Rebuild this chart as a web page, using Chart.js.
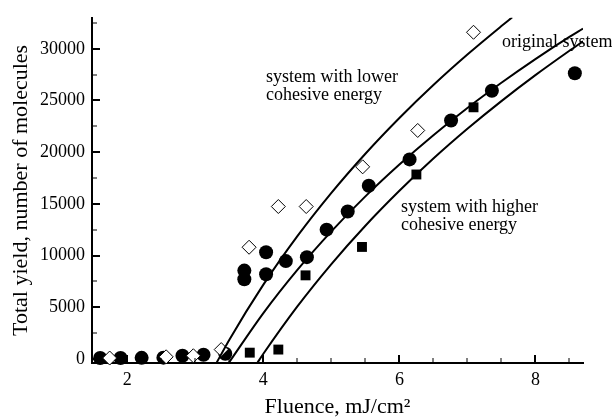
<!DOCTYPE html>
<html>
<head>
<meta charset="utf-8">
<script src="https://cdn.jsdelivr.net/npm/chart.js@4.4.1/dist/chart.umd.min.js"></script>
<style>
  html, body { margin: 0; padding: 0; background: #fff; }
</style>
</head>
<body>
<canvas id="chart" width="612" height="420"></canvas>
<script>
// original system (filled circles)
const origX = [1.60, 1.90, 2.21, 2.53, 2.81, 3.12, 3.44, 3.72, 3.72, 4.04, 4.04, 4.33, 4.64, 4.93, 5.24, 5.55, 6.15, 6.76, 7.36, 8.58];
const origY = [80, 80, 100, 120, 300, 400, 500, 7700, 8540, 8180, 10320, 9460, 9840, 12500, 14260, 16750, 19300, 23060, 25940, 27630];

// system with lower cohesive energy (open diamonds)
const lowX = [1.74, 2.57, 2.97, 3.38, 3.79, 4.22, 4.63, 5.46, 6.27, 7.09];
const lowY = [80, 200, 300, 900, 10800, 14740, 14740, 18580, 22100, 31600];

// system with higher cohesive energy (filled squares)
const highX = [3.80, 4.22, 4.62, 5.45, 6.25, 7.09];
const highY = [600, 900, 8080, 10830, 17840, 24340];

// fitted curves
const curveLowX = [3.31, 3.5, 4.0, 4.5, 5.0, 5.5, 6.0, 6.5, 7.0, 7.5, 7.66];
const curveLowY = [-400, 1860, 7180, 11870, 16060, 19850, 23310, 26500, 29450, 32200, 33050];
const curveOrigX = [3.49, 4.0, 4.5, 5.0, 5.5, 6.0, 6.5, 7.0, 7.5, 8.0, 8.5, 8.7];
const curveOrigY = [-400, 4430, 8610, 12340, 15720, 18800, 21640, 24270, 26710, 29000, 31150, 31950];
const curveHighX = [3.91, 4.0, 4.5, 5.0, 5.5, 6.0, 6.5, 7.0, 7.5, 8.0, 8.5, 8.7];
const curveHighY = [-400, 490, 5070, 9170, 12880, 16260, 19380, 22260, 24940, 27450, 29810, 30720];

// labelled ticks
const xTickVals = [2, 4, 6, 8];
const yTickVals = [0, 5000, 10000, 15000, 20000, 25000, 30000];

// tick marks drawn inside the frame
const xMarks = [2, 2.5, 3, 3.5, 4, 4.5, 5, 5.5, 6, 6.5, 7, 7.5, 8, 8.5];
const yMarks = [0, 2500, 5000, 7500, 10000, 12500, 15000, 17500, 20000, 22500, 25000, 27500, 30000, 32500];

const notes = [
  { text: "system with lower", x: 266, y: 82 },
  { text: "cohesive energy", x: 266, y: 100 },
  { text: "original system", x: 502, y: 47 },
  { text: "system with higher", x: 401, y: 212 },
  { text: "cohesive energy", x: 401, y: 230 }
];

const pts = (xs, ys) => xs.map((x, i) => ({ x, y: ys[i] }));

const SERIF = "'Liberation Serif', 'Times New Roman', serif";
Chart.defaults.font.family = SERIF;
Chart.defaults.color = "#000";

const innerTicks = {
  id: "innerTicks",
  afterDraw(chart) {
    const { ctx, chartArea: a } = chart;
    const x = chart.scales.x, y = chart.scales.y;
    ctx.save();
    ctx.strokeStyle = "#000";
    xMarks.forEach(v => {
      const px = Math.round(x.getPixelForValue(v));
      const major = v % 2 === 0;
      ctx.lineWidth = major ? 2 : 1;
      ctx.beginPath();
      ctx.moveTo(px, a.bottom);
      ctx.lineTo(px, a.bottom - (major ? 8 : 5));
      ctx.stroke();
    });
    yMarks.forEach(v => {
      const py = Math.round(y.getPixelForValue(v));
      const major = v % 5000 === 0;
      ctx.lineWidth = major ? 2 : 1;
      ctx.beginPath();
      ctx.moveTo(a.left, py);
      ctx.lineTo(a.left + (major ? 8 : 5), py);
      ctx.stroke();
    });
    ctx.fillStyle = "#000";
    ctx.font = "18px " + SERIF;
    ctx.textBaseline = "alphabetic";
    notes.forEach(n => ctx.fillText(n.text, n.x, n.y));
    ctx.restore();
  }
};

const curve = (data) => ({
  type: "scatter",
  data,
  showLine: true,
  borderColor: "#000",
  borderWidth: 2,
  pointRadius: 0,
  cubicInterpolationMode: "monotone",
  order: 0
});

new Chart(document.getElementById("chart"), {
  type: "scatter",
  data: {
    datasets: [
      curve(pts(curveLowX, curveLowY)),
      curve(pts(curveOrigX, curveOrigY)),
      curve(pts(curveHighX, curveHighY)),
      {
        label: "lower cohesive energy",
        data: pts(lowX, lowY),
        pointStyle: "rectRot",
        pointRadius: 7,
        backgroundColor: "#fff",
        borderColor: "#000",
        borderWidth: 1,
        clip: false,
        order: 1
      },
      {
        label: "higher cohesive energy",
        data: pts(highX, highY),
        pointStyle: "rect",
        pointRadius: 7,
        backgroundColor: "#000",
        borderColor: "#000",
        borderWidth: 0,
        clip: false,
        order: 2
      },
      {
        label: "original system",
        data: pts(origX, origY),
        pointStyle: "circle",
        pointRadius: 7,
        backgroundColor: "#000",
        borderColor: "#000",
        borderWidth: 0,
        clip: false,
        order: 3
      }
    ]
  },
  options: {
    responsive: false,
    animation: false,
    devicePixelRatio: 1,
    layout: { padding: { top: 14, right: 29, left: 0, bottom: 0 } },
    plugins: { legend: { display: false }, tooltip: { enabled: false } },
    scales: {
      x: {
        type: "linear",
        min: 1.48,
        max: 8.7,
        grid: { display: false, drawTicks: false },
        border: { display: true, color: "#000", width: 2 },
        afterBuildTicks: s => { s.ticks = xTickVals.map(v => ({ value: v })); },
        afterFit: s => { s.height = 57; },
        ticks: { padding: 6, font: { size: 18 }, color: "#000", callback: v => String(v) },
        title: {
          display: true,
          text: "Fluence, mJ/cm\u00B2",
          font: { size: 22 },
          color: "#000",
          padding: { top: 1, bottom: 0 }
        }
      },
      y: {
        type: "linear",
        min: -400,
        max: 33000,
        grid: { display: false, drawTicks: false },
        border: { display: true, color: "#000", width: 2 },
        afterBuildTicks: s => { s.ticks = yTickVals.map(v => ({ value: v })); },
        afterFit: s => { s.width = 92; },
        ticks: { padding: 7, font: { size: 18 }, color: "#000", callback: v => String(v) },
        title: {
          display: true,
          text: "Total yield, number of molecules",
          font: { size: 22 },
          color: "#000",
          padding: { top: 8, bottom: 0 }
        }
      }
    }
  },
  plugins: [innerTicks]
});
</script>
</body>
</html>
